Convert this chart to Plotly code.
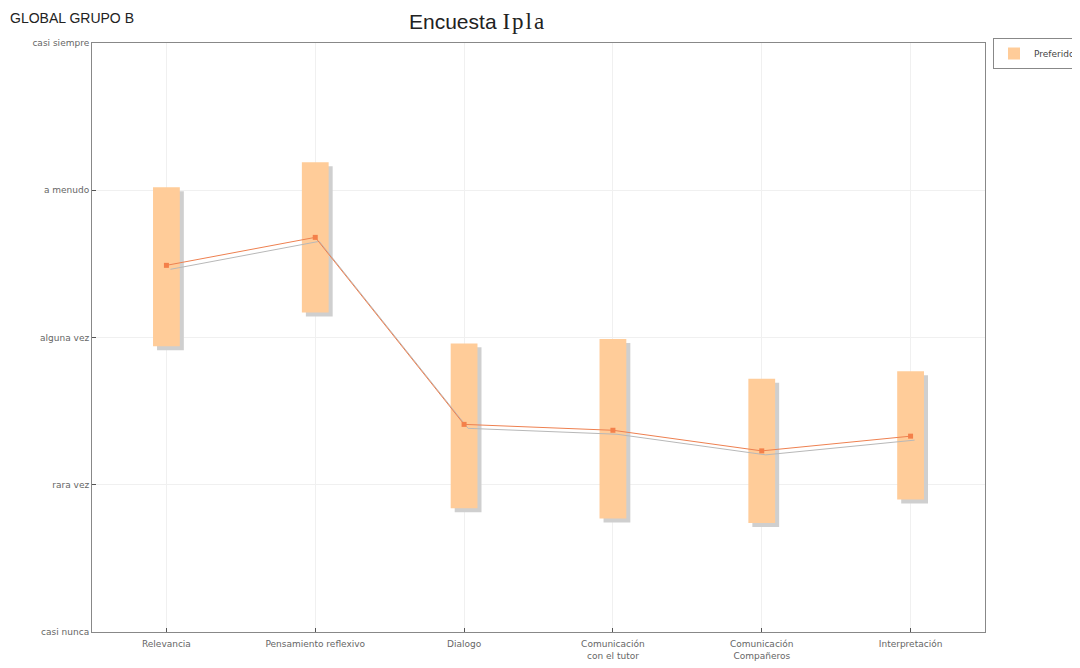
import plotly.graph_objects as go

categories = ["Relevancia", "Pensamiento reflexivo", "Dialogo",
              "Comunicación<br>con el tutor", "Comunicación<br>Compañeros", "Interpretación"]
low_vals = [1.94, 2.17, 0.84, 0.77, 0.74, 0.90]
high_vals = [3.02, 3.19, 1.96, 1.99, 1.72, 1.77]
mean_vals = [2.49, 2.68, 1.41, 1.37, 1.23, 1.33]
y_tick_labels = ["casi nunca", "rara vez", "alguna vez", "a menudo", "casi siempre"]

xs = list(range(len(categories)))
sx = 0.027  # shadow offset in x units
sy = 0.027  # shadow offset in y units
bar_w = 0.18

fig = go.Figure()

fig.add_trace(go.Bar(
    x=[x + sx for x in xs], y=[h - l for h, l in zip(high_vals, low_vals)],
    base=[l - sy for l in low_vals], width=bar_w,
    marker=dict(color="#cfcfcf", line=dict(width=0)),
    showlegend=False, hoverinfo="skip"))
fig.add_trace(go.Bar(
    x=xs, y=[h - l for h, l in zip(high_vals, low_vals)],
    base=low_vals, width=bar_w, name="Preferido",
    marker=dict(color="#FFCC99", line=dict(width=0)),
    showlegend=True))
fig.add_trace(go.Scatter(
    x=[x + sx for x in xs], y=[m - sy for m in mean_vals], mode="lines",
    line=dict(color="#b8b8b8", width=1), showlegend=False, hoverinfo="skip"))
fig.add_trace(go.Scatter(
    x=xs, y=mean_vals, mode="lines+markers",
    line=dict(color="#EE8050", width=1),
    marker=dict(color="#F4804A", size=5, symbol="square"),
    showlegend=False))

# page offset (body margin) is 8px
L, R, T, B = 84, 103, 35, 44
plot_w = 1080 - L - R
plot_h = 668 - T - B

fig.update_layout(
    width=1080, height=668,
    margin=dict(l=L, r=R, t=T, b=B, autoexpand=False),
    paper_bgcolor="white", plot_bgcolor="white",
    barmode="overlay",
    font=dict(family="DejaVu Sans", color="#666666", size=9),
    legend=dict(xref="container", yref="container",
                x=(993 - 8) / 1080, xanchor="left", y=1 - (38 - 8) / 668, yanchor="top",
                bordercolor="#888888", borderwidth=1, tracegroupgap=0,
                font=dict(size=9, color="#444444"), itemwidth=30),
    annotations=[
        dict(text="Encuesta <span style=\"font-family:'Liberation Serif';font-size:23px;letter-spacing:2px\">Ipla</span>",
             xref="paper", yref="paper", x=(477 - 8 - L) / plot_w, y=(plot_h + T + 8 - 22) / plot_h,
             showarrow=False, font=dict(size=21, color="#222222", family="Liberation Sans, Arial, sans-serif"),
             xanchor="center", yanchor="middle"),
        dict(text="GLOBAL GRUPO B", xref="paper", yref="paper",
             x=-L / plot_w, y=(plot_h + T) / plot_h,
             showarrow=False, font=dict(size=14, color="#222222", family="Liberation Sans, Arial, sans-serif"),
             xanchor="left", yanchor="top"),
    ],
)

fig.update_xaxes(
    range=[-0.5, len(categories) - 0.5],
    tickvals=xs, ticktext=categories, automargin=False, ticklabelstandoff=3,
    showline=True, linecolor="#888888", linewidth=1, mirror=True,
    ticks="inside", ticklen=4, tickcolor="#555555",
    showgrid=True, gridcolor="#f0f0f0", zeroline=False)
fig.update_yaxes(
    range=[0, 4], tickvals=[0, 1, 2, 3, 4], ticktext=y_tick_labels, automargin=False,
    showline=True, linecolor="#888888", linewidth=1, mirror=True,
    ticks="inside", ticklen=4, tickcolor="#555555",
    showgrid=True, gridcolor="#f0f0f0", zeroline=False)

fig.write_html("out.html")
